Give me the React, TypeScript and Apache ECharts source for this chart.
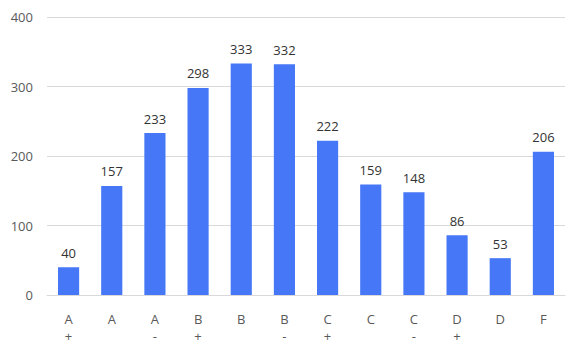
import React, { useEffect, useRef } from "react";
import * as echarts from "echarts";

const categories = ["A\n+", "A", "A\n-", "B\n+", "B", "B\n-", "C\n+", "C", "C\n-", "D\n+", "D", "F"];
const values = [40, 157, 233, 298, 333, 332, 222, 159, 148, 86, 53, 206];

export default function App() {
  const ref = useRef<HTMLDivElement>(null);
  useEffect(() => {
    if (!ref.current) return;
    const chart = echarts.init(ref.current, undefined, { renderer: "svg" });
    chart.setOption({
      animation: false,
      textStyle: { fontFamily: "Open Sans" },
      grid: { left: 47, right: 17, top: 17, bottom: 54 },
      xAxis: {
        type: "category",
        data: categories,
        axisTick: { show: false },
        axisLine: { lineStyle: { color: "#d9d9d9" } },
        axisLabel: { color: "#595959", fontSize: 13, margin: 15, lineHeight: 17 },
      },
      yAxis: {
        type: "value",
        min: 0,
        max: 400,
        interval: 100,
        axisLabel: { color: "#595959", fontSize: 13, margin: 14 },
        splitLine: { lineStyle: { color: "#d9d9d9" } },
      },
      series: [
        {
          type: "bar",
          data: values,
          barWidth: "49%",
          itemStyle: { color: "#4677f6" },
          label: { show: true, position: "top", color: "#333", fontSize: 13, distance: 8 },
        },
      ],
    });
    return () => chart.dispose();
  }, []);
  return <div ref={ref} style={{ width: 582, height: 349, position: "absolute", left: 0, top: 0 }} />;
}
